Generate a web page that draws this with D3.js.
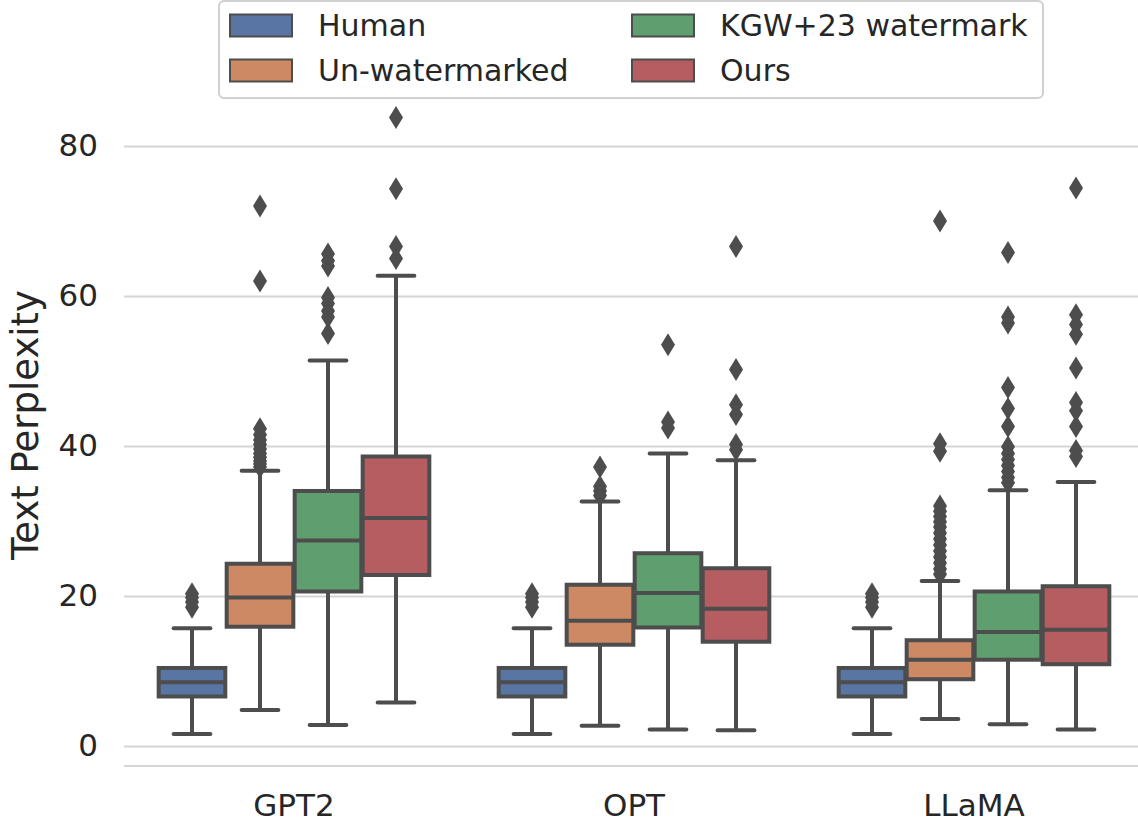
<!DOCTYPE html>
<html>
<head>
<meta charset="utf-8">
<script src="https://cdn.jsdelivr.net/npm/d3@7"></script>
<style>
  body { margin: 0; background: #ffffff; }
  text { font-family: "DejaVu Sans", sans-serif; fill: #262626; }
</style>
</head>
<body>
<div id="chart"></div>
<script>
// Categories and series
var models = ["GPT2", "OPT", "LLaMA"];
var methods = ["Human", "Un-watermarked", "KGW+23 watermark", "Ours"];
var colors = ["#5975a4", "#cc8963", "#5f9e6e", "#b55d60"];
var yTicks = [0, 20, 40, 60, 80];

// Box statistics, one row per model, one value per method
var whiskerLow = [
    [1.6, 4.8, 2.8, 5.8],
    [1.6, 2.7, 2.2, 2.1],
    [1.6, 3.6, 2.9, 2.2]
];
var q1 = [
    [6.6, 15.9, 20.6, 22.8],
    [6.6, 13.5, 15.8, 13.9],
    [6.6, 8.9, 11.5, 10.9]
];
var medians = [
    [8.5, 19.8, 27.4, 30.4],
    [8.5, 16.7, 20.4, 18.3],
    [8.5, 11.5, 15.2, 15.5]
];
var q3 = [
    [10.4, 24.3, 34.0, 38.6],
    [10.4, 21.5, 25.7, 23.7],
    [10.4, 14.1, 20.6, 21.3]
];
var whiskerHigh = [
    [15.7, 36.7, 51.4, 62.7],
    [15.7, 32.6, 39.0, 38.1],
    [15.7, 22.0, 34.1, 35.2]
];
var outliers = [
    [
        [18.5, 19.2, 19.8, 20.3],
        [72.0, 62.0, 37.2, 37.6, 38.0, 38.5, 39.0, 39.6, 40.2, 40.8, 41.5, 42.3],
        [65.6, 64.7, 64.0, 59.8, 59.0, 58.0, 57.2, 55.0],
        [83.8, 74.3, 66.6, 65.0]
    ],
    [
        [18.5, 19.2, 19.8, 20.3],
        [37.2, 34.6, 34.0, 33.4],
        [53.5, 43.2, 42.4],
        [66.6, 50.2, 45.5, 44.2, 40.2, 39.5]
    ],
    [
        [18.5, 19.2, 19.8, 20.3],
        [70.0, 40.3, 39.3, 32.0, 31.3, 30.6, 29.9, 29.2, 28.4, 27.6, 26.8, 26.0, 25.2, 24.4, 23.6, 22.9],
        [65.8, 57.2, 56.4, 47.8, 45.0, 42.6, 39.9, 39.0, 38.2, 37.4, 36.6, 35.8, 35.1],
        [74.4, 57.5, 56.2, 54.9, 50.4, 45.8, 44.7, 42.6, 39.4, 38.6]
    ]
];

// Dimensions
var W = 1138, H = 822;
var plotLeft = 124, plotRight = 1144, plotTop = 86, plotBottom = 766;
var lineColor = "#4d4d4d";
var gridColor = "#d5d5d5";

var svg = d3.select("#chart").append("svg")
    .attr("width", W)
    .attr("height", H);

// Scales
var x0 = d3.scaleBand().domain(models).range([plotLeft, plotRight]).padding(0);
var x1 = d3.scaleBand().domain(methods).range([0, x0.bandwidth()])
    .paddingInner(0).paddingOuter(0.5);
var y = d3.scaleLinear().domain([-2.67, 88]).range([plotBottom, plotTop]);

// Grid lines
var yAxis = d3.axisLeft(y).tickValues(yTicks).tickSize(-(plotRight - plotLeft)).tickPadding(26);
var gy = svg.append("g")
    .attr("transform", "translate(" + plotLeft + ",0)")
    .call(yAxis);
gy.select(".domain").remove();
gy.selectAll(".tick line").attr("stroke", gridColor).attr("stroke-width", 2);
gy.selectAll(".tick text")
    .style("font-size", "31px")
    .attr("fill", "#262626");

// Bottom spine
svg.append("line")
    .attr("x1", plotLeft).attr("x2", plotRight)
    .attr("y1", plotBottom).attr("y2", plotBottom)
    .attr("stroke", gridColor).attr("stroke-width", 2);

// x axis labels
var xAxis = d3.axisBottom(x0).tickSize(0).tickPadding(28);
var gx = svg.append("g")
    .attr("transform", "translate(0," + plotBottom + ")")
    .call(xAxis);
gx.select(".domain").remove();
gx.selectAll(".tick text").style("font-size", "31px").attr("fill", "#262626");

// y axis label
svg.append("text")
    .attr("transform", "translate(38," + 425 + ") rotate(-90)")
    .style("text-anchor", "middle")
    .style("font-size", "37px")
    .text("Text Perplexity");

// Boxes
var boxW = x1.bandwidth() * 0.98;
var capW = x1.bandwidth() * 0.54;

models.forEach(function (m, i) {
    methods.forEach(function (s, j) {
        var cx = x0(m) + x1(s) + x1.bandwidth() / 2;
        var g = svg.append("g");

        // whiskers
        g.append("line")
            .attr("x1", cx).attr("x2", cx)
            .attr("y1", y(whiskerLow[i][j])).attr("y2", y(q1[i][j]))
            .attr("stroke", lineColor).attr("stroke-width", 4);
        g.append("line")
            .attr("x1", cx).attr("x2", cx)
            .attr("y1", y(q3[i][j])).attr("y2", y(whiskerHigh[i][j]))
            .attr("stroke", lineColor).attr("stroke-width", 4);
        // caps
        [whiskerLow[i][j], whiskerHigh[i][j]].forEach(function (v) {
            g.append("line")
                .attr("x1", cx - capW / 2).attr("x2", cx + capW / 2)
                .attr("y1", y(v)).attr("y2", y(v))
                .attr("stroke", lineColor).attr("stroke-width", 4)
                .attr("stroke-linecap", "round");
        });
        // box
        g.append("rect")
            .attr("x", cx - boxW / 2)
            .attr("width", boxW)
            .attr("y", y(q3[i][j]))
            .attr("height", y(q1[i][j]) - y(q3[i][j]))
            .attr("fill", colors[j])
            .attr("stroke", lineColor).attr("stroke-width", 4);
        // median
        g.append("line")
            .attr("x1", cx - boxW / 2).attr("x2", cx + boxW / 2)
            .attr("y1", y(medians[i][j])).attr("y2", y(medians[i][j]))
            .attr("stroke", lineColor).attr("stroke-width", 4);
        // outliers (thin diamonds)
        g.selectAll("path.out")
            .data(outliers[i][j])
            .enter().append("path")
            .attr("class", "out")
            .attr("d", "M0,-11.5L7,0L0,11.5L-7,0Z")
            .attr("transform", function (d) { return "translate(" + cx + "," + y(d) + ")"; })
            .attr("fill", lineColor);
    });
});

// Legend
var legend = svg.append("g");
legend.append("rect")
    .attr("x", 219).attr("y", 1)
    .attr("width", 824).attr("height", 97)
    .attr("rx", 5)
    .attr("fill", "#ffffff").attr("fill-opacity", 0.8)
    .attr("stroke", "#d0d0d0").attr("stroke-width", 2);

var legendCols = [230, 632];
var legendRows = [25.5, 70.5];
methods.forEach(function (s, j) {
    var lx = legendCols[Math.floor(j / 2)];
    var ly = legendRows[j % 2];
    legend.append("rect")
        .attr("x", lx).attr("y", ly - 11)
        .attr("width", 62).attr("height", 22)
        .attr("fill", colors[j])
        .attr("stroke", lineColor).attr("stroke-width", 2);
    legend.append("text")
        .attr("x", lx + 88).attr("y", ly)
        .attr("dy", "0.36em")
        .style("font-size", "30px")
        .text(s);
});
</script>
</body>
</html>
